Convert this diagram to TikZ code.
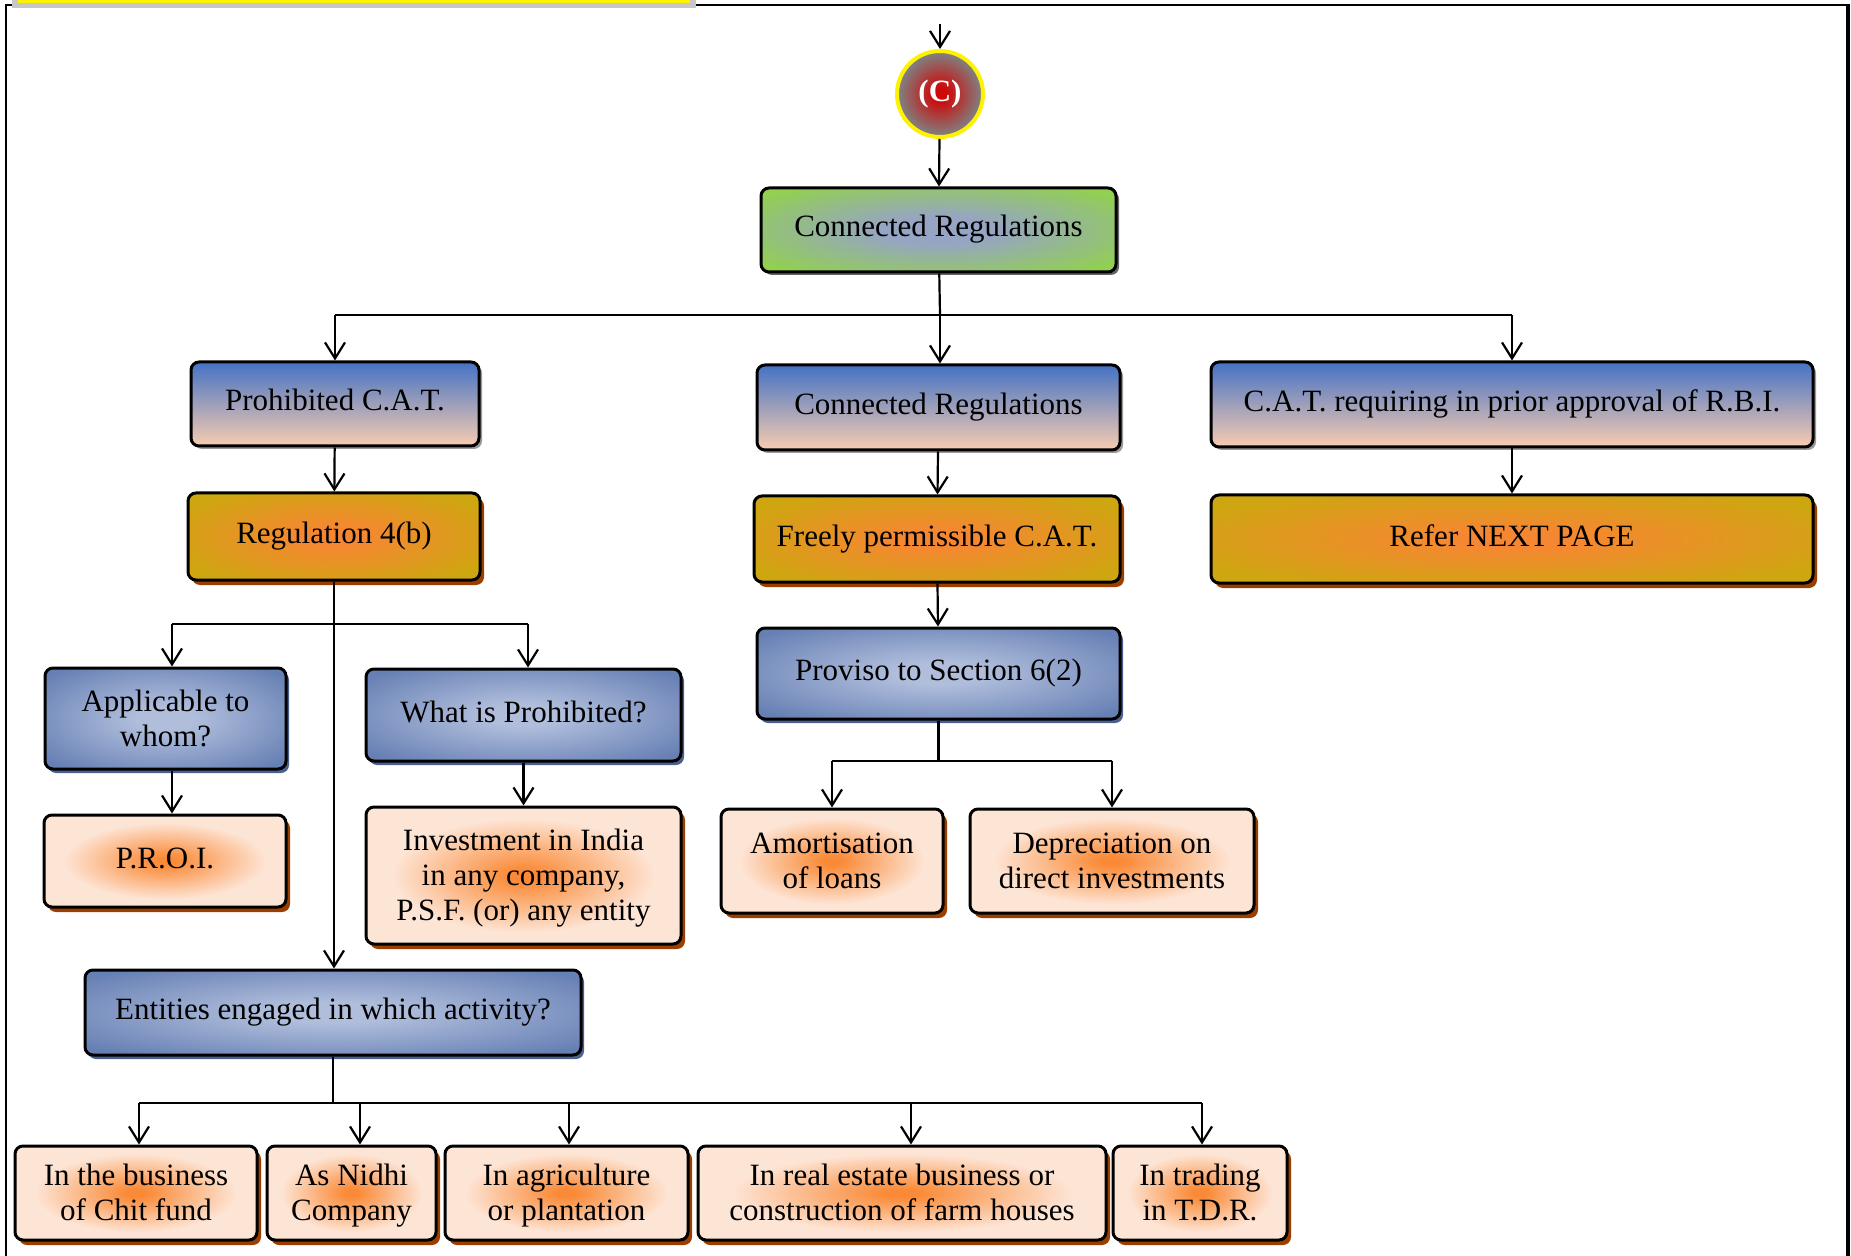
\documentclass[tikz,border=0pt]{standalone}
\usepackage{fontspec}
\setmainfont{Liberation Serif}
\usetikzlibrary{arrows.meta,shadows,calc}

\definecolor{gOut}{RGB}{146,208,80}
\definecolor{gIn}{RGB}{150,165,195}
\definecolor{bTop}{RGB}{68,114,196}
\definecolor{pBot}{RGB}{248,204,176}
\definecolor{auOut}{RGB}{206,166,16}
\definecolor{auIn}{RGB}{246,135,50}
\definecolor{brn}{RGB}{155,62,0}
\definecolor{blOut}{RGB}{103,128,180}
\definecolor{blIn}{RGB}{176,190,220}
\definecolor{blSh}{RGB}{75,95,145}
\definecolor{pcOut}{RGB}{253,229,214}
\definecolor{pcIn}{RGB}{250,138,55}
\definecolor{cGrey}{RGB}{128,128,128}
\definecolor{cRed}{RGB}{205,10,10}

\pgfdeclareradialshading{greenglow}{\pgfpoint{0bp}{0bp}}{color(0bp)=(gIn); color(8bp)=(gIn); color(32bp)=(gOut); color(50bp)=(gOut)}
\pgfdeclareradialshading{goldglow}{\pgfpoint{0bp}{0bp}}{color(0bp)=(auIn); color(5bp)=(auIn); color(30bp)=(auOut); color(50bp)=(auOut)}
\pgfdeclareradialshading{blueglow}{\pgfpoint{0bp}{0bp}}{color(0bp)=(blIn); color(6bp)=(blIn); color(32bp)=(blOut); color(50bp)=(blOut)}
\pgfdeclareradialshading{peachglow}{\pgfpoint{0bp}{0bp}}{color(0bp)=(pcIn); color(2bp)=(pcIn); color(21bp)=(pcOut); color(50bp)=(pcOut)}
\pgfdeclareradialshading{redglow}{\pgfpoint{0bp}{0bp}}{color(0bp)=(cRed); color(4bp)=(cRed); color(24bp)=(cGrey); color(50bp)=(cGrey)}

\tikzset{
  box/.style={rectangle, rounded corners=4pt, draw=black, line width=1.5pt,
    align=center, text=black, inner sep=0pt,
    font=\fontsize{15.5}{17.5}\selectfont,
    execute at begin node={\strut}, execute at end node={\strut}},
  multi/.style={text depth=0.5pt},
  greenbox/.style={box, shade, shading=greenglow,
    drop shadow={shadow xshift=1.5pt, shadow yshift=-1.5pt, fill=black!60, opacity=1}},
  gradbox/.style={box, top color=bTop, bottom color=pBot,
    drop shadow={shadow xshift=1.5pt, shadow yshift=-1.5pt, fill=black!40, opacity=1}},
  goldbox/.style={box, shade, shading=goldglow,
    drop shadow={shadow xshift=2pt, shadow yshift=-2.5pt, fill=brn, opacity=1}},
  bluebox/.style={box, shade, shading=blueglow,
    drop shadow={shadow xshift=1.5pt, shadow yshift=-2pt, fill=blSh, opacity=1}},
  peachbox/.style={box, shade, shading=peachglow,
    drop shadow={shadow xshift=2pt, shadow yshift=-2.5pt, fill=brn, opacity=1}},
  ln/.style={line width=1.1pt, draw=black},
  arr/.style={ln, -{Straight Barb[length=8pt,width=10pt,line width=1.1pt]}},
}

\begin{document}
\begin{tikzpicture}[x=0.5pt,y=-0.5pt]
\useasboundingbox (0,0) rectangle (1851,1256);
% frame
\draw[line width=0.6pt] (6,1256) -- (6,5);
\draw[line width=1.2pt] (5,5) -- (1848,5);
\draw[line width=1.6pt] (1848,4) -- (1848,1256);
\fill[black!22] (12,-2) rectangle (696,8);
\fill[yellow] (18,-2) rectangle (690,3.5);

% nodes
\node[circle, draw=yellow, line width=2pt, minimum size=43pt, inner sep=0pt,
  shade, shading=redglow, text=white, font=\fontsize{15.5}{17.5}\selectfont\bfseries] (circ) at (940,94) {(C)};
\node[greenbox, minimum width=177.5pt, minimum height=42pt] (cr1) at (938.5,230) {Connected Regulations};

\node[gradbox, minimum width=144pt, minimum height=42pt] (proh) at (335,404) {Prohibited C.A.T.};
\node[gradbox, minimum width=181.5pt, minimum height=42.5pt] (cr2) at (938.5,407.5) {Connected Regulations};
\node[gradbox, minimum width=301pt, minimum height=42.5pt] (catreq) at (1512,404.5) {C.A.T. requiring in prior approval of R.B.I.};

\node[goldbox, minimum width=146pt, minimum height=43.5pt] (reg) at (334,536.5) {Regulation 4(b)};
\node[goldbox, minimum width=183pt, minimum height=43pt] (free) at (937,539) {Freely permissible C.A.T.};
\node[goldbox, minimum width=301pt, minimum height=44pt] (refer) at (1512,539) {Refer NEXT PAGE};

\node[bluebox, minimum width=181.5pt, minimum height=45.5pt] (prov) at (938.5,673.5) {Proviso to Section 6(2)};
\node[peachbox, multi, minimum width=111pt, minimum height=52pt] (amort) at (832,861) {Amortisation\\of loans};
\node[peachbox, multi, minimum width=142pt, minimum height=52pt] (dep) at (1112,861) {Depreciation on\\direct investments};

\node[bluebox, multi, minimum width=120.5pt, minimum height=50.5pt] (appl) at (165.5,718.5) {Applicable to\\whom?};
\node[bluebox, minimum width=157.5pt, minimum height=46pt] (what) at (523.5,715) {What is Prohibited?};
\node[peachbox, minimum width=121pt, minimum height=46pt] (proi) at (165,861) {P.R.O.I.};
\node[peachbox, multi, minimum width=157.5pt, minimum height=68.5pt] (inv) at (523.5,875.5) {Investment in India\\in any company,\\P.S.F. (or) any entity};

\node[bluebox, minimum width=248pt, minimum height=42.5pt] (ent) at (333,1012.5) {Entities engaged in which activity?};

\node[peachbox, multi, minimum width=121pt, minimum height=47pt] (chit) at (136,1193) {In the business\\of Chit fund};
\node[peachbox, multi, minimum width=84.5pt, minimum height=47pt] (nidhi) at (351.5,1193) {As Nidhi\\Company};
\node[peachbox, multi, minimum width=121.5pt, minimum height=47pt] (agri) at (566.5,1193) {In agriculture\\or plantation};
\node[peachbox, multi, minimum width=204pt, minimum height=47pt] (real) at (902,1193) {In real estate business or\\construction of farm houses};
\node[peachbox, multi, minimum width=87pt, minimum height=47pt] (trade) at (1200,1193) {In trading\\in T.D.R.};

% connectors
\coordinate (top) at (940,24);
\draw[arr] (top) -- (circ);
\draw[arr] (circ) -- (cr1);

\coordinate (j1) at (940,315);
\draw[ln] (cr1) -- (j1);
\draw[ln] (j1 -| proh) -- (j1 -| catreq);
\draw[arr] (j1 -| proh) -- (proh);
\draw[arr] (j1) -- (j1 |- cr2.north);
\draw[arr] (j1 -| catreq) -- (catreq);

\draw[arr] (proh) -- (reg);
\draw[arr] (cr2) -- (free);
\draw[arr] (free) -- (prov);
\draw[arr] (catreq) -- (refer);

\draw[arr] (reg.south) -- (reg.south |- ent.north);

\coordinate (j2a) at (172,624);
\coordinate (j2b) at (528,624);
\draw[ln] (j2a) -- (j2b);
\draw[arr] (j2a) -- (j2a |- appl.north);
\draw[arr] (j2b) -- (j2b |- what.north);
\draw[arr] (appl.south -| j2a) -- (j2a |- proi.north);
\draw[arr] (what) -- (inv);

\coordinate (j3) at (938.5,761);
\draw[ln] (prov) -- (j3);
\draw[ln] (j3 -| amort) -- (j3 -| dep);
\draw[arr] (j3 -| amort) -- (amort);
\draw[arr] (j3 -| dep) -- (dep);

\coordinate (j4) at (333,1103);
\coordinate (b1) at (139,1103);
\coordinate (b2) at (360,1103);
\coordinate (b3) at (569,1103);
\coordinate (b4) at (911,1103);
\coordinate (b5) at (1202,1103);
\draw[ln] (ent) -- (j4);
\draw[ln] (b1) -- (b5);
\draw[arr] (b1) -- (b1 |- chit.north);
\draw[arr] (b2) -- (b2 |- nidhi.north);
\draw[arr] (b3) -- (b3 |- agri.north);
\draw[arr] (b4) -- (b4 |- real.north);
\draw[arr] (b5) -- (b5 |- trade.north);
\end{tikzpicture}
\end{document}
